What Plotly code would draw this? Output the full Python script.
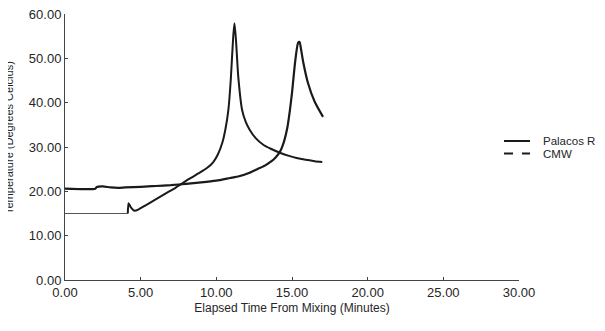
import plotly.graph_objects as go

# Curve with peak near 11 min (starts at 15 C)
time_a = [0.0, 4.15, 4.2, 4.35, 4.6, 4.9, 5.3, 5.8, 6.3, 6.8, 7.3, 7.7, 8.2, 8.9, 9.4,
          9.8, 10.1, 10.4, 10.6, 10.8, 10.95, 11.05, 11.13, 11.2, 11.3, 11.45, 11.7,
          11.95, 12.2, 12.6, 13.1, 13.6, 14.2, 14.8, 15.3, 15.9, 16.5, 17.0]
temp_a = [15.0, 15.0, 17.3, 16.4, 15.6, 16.0, 16.8, 17.8, 18.8, 19.8, 20.8, 21.7, 22.8, 24.2, 25.3,
          26.6, 28.3, 31.0, 34.0, 38.5, 45.0, 51.0, 55.5, 57.9, 54.0, 45.8, 38.4,
          35.6, 33.9, 32.0, 30.5, 29.6, 28.7, 28.0, 27.5, 27.1, 26.8, 26.6]

# Curve with peak near 15.5 min (starts at ~20.6 C)
time_b = [0.0, 2.0, 2.1, 2.5, 3.0, 3.5, 4.0, 5.0, 6.0, 7.0, 8.0, 9.0, 10.0, 10.9, 11.5,
          12.2, 12.7, 13.2, 13.6, 13.9, 14.2, 14.45, 14.7, 14.85, 15.0, 15.2, 15.4, 15.5,
          15.6, 15.75, 16.05, 16.5, 17.05]
temp_b = [20.6, 20.6, 21.0, 21.1, 20.9, 20.8, 20.9, 21.0, 21.2, 21.4, 21.7, 22.0, 22.4, 23.0, 23.4,
          24.2, 25.0, 25.8, 26.7, 27.6, 28.9, 31.0, 34.5, 38.0, 42.2, 49.0, 53.5, 53.7,
          52.0, 49.0, 44.5, 40.2, 36.8]

x_ticks = [0, 5, 10, 15, 20, 25, 30]
y_ticks = [0, 10, 20, 30, 40, 50, 60]
series_names = ["Palacos R", "CMW"]
series_dash = ["solid", "dash"]

FONT = "Liberation Sans, Arial, sans-serif"
INK = "#1a1a1a"
TXT = "#262626"

# page has an 8px body margin: figure coords = page coords - 8
OFF = 8
FW, FH = 605 - OFF, 331 - OFF
L, R, T, B = 65 - OFF, 519 - OFF, 14 - OFF, 280 - OFF
W, H = R - L, B - T

fig = go.Figure()
# flat pre-jump part of curve A drawn thin
fig.add_trace(go.Scatter(x=time_a[:2], y=temp_a[:2], mode="lines",
                         line=dict(color="#555555", width=1), showlegend=False))
fig.add_trace(go.Scatter(x=time_a[1:], y=temp_a[1:], mode="lines",
                         line=dict(color=INK, width=2, shape="spline", smoothing=0.6),
                         showlegend=False))
fig.add_trace(go.Scatter(x=time_b, y=temp_b, mode="lines",
                         line=dict(color=INK, width=2.2, shape="spline", smoothing=0.6),
                         showlegend=False))

axis_common = dict(showgrid=False, zeroline=False, showline=True, linecolor="#444444",
                   linewidth=1, ticks="inside", ticklen=3, tickcolor="#444444",
                   ticklabeloverflow="allow", automargin=False,
                   tickfont=dict(family=FONT, size=13, color=TXT))

fig.update_layout(
    width=FW, height=FH,
    margin=dict(l=L, r=FW - R, t=T, b=FH - B, autoexpand=False),
    paper_bgcolor="white", plot_bgcolor="white",
    xaxis=dict(range=[0, 30], tickvals=x_ticks,
               ticktext=[f"{v:.2f}" for v in x_ticks],
               title=dict(text="Elapsed Time From Mixing (Minutes)",
                          font=dict(family=FONT, size=12, color=TXT), standoff=5),
               **axis_common),
    yaxis=dict(range=[0, 60], tickvals=y_ticks,
               ticktext=[f"{v:.2f}" for v in y_ticks], **axis_common),
    showlegend=False,
)

# hand-drawn legend, positions in page px
for i, (name, dash) in enumerate(zip(series_names, series_dash)):
    py = 141 + 12.5 * i - OFF
    yp = (B - py) / H
    fig.add_shape(type="line", xref="paper", yref="paper",
                  x0=(504 - OFF - L) / W, x1=(530 - OFF - L) / W, y0=yp, y1=yp,
                  line=dict(color=INK, width=2, dash=dash))
    fig.add_annotation(text=name, xref="paper", yref="paper",
                       x=(542 - OFF - L) / W, y=yp, xanchor="left", yanchor="middle",
                       showarrow=False, borderpad=0,
                       font=dict(family=FONT, size=11.5, color=TXT))

fig.add_annotation(text="Temperature (Degrees Celcius)", textangle=-90,
                   xref="paper", yref="paper", x=(9 - OFF - L) / W, y=(B - (138 - OFF)) / H,
                   xanchor="center", yanchor="middle", showarrow=False,
                   font=dict(family=FONT, size=11, color=TXT))

fig.write_html("out.html")
